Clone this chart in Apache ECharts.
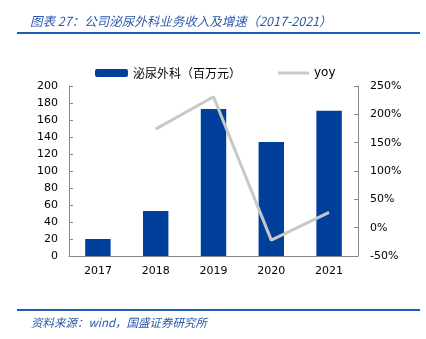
<!DOCTYPE html>
<html><head><meta charset="utf-8">
<script src="https://cdn.jsdelivr.net/npm/echarts@6/dist/echarts.min.js"></script>
<style>html,body{margin:0;padding:0;background:#fff}#c{width:426px;height:339px}</style>
</head><body><div id="c"></div>
<script>
const categories = ['2017','2018','2019','2020','2021'];
const revenue = [20, 53, 173, 134, 171];
const yoy = [null, 174, 231, -22, 27];
const leftTicks = [0, 200, 20];
const rightTicks = [-50, 250, 50];

const chart = echarts.init(document.getElementById('c'), null, {renderer:'canvas'});
const axisFont = {fontFamily:'DejaVu Sans', fontSize:11, color:'#000'};
chart.setOption({
  animation:false,
  title:[{
    text:'图表 27：公司泌尿外科业务收入及增速（2017-2021）',
    left:25, top:10,
    textStyle:{fontFamily:'Noto Sans CJK SC', fontStyle:'italic', fontWeight:'normal', fontSize:12.5, color:'#2a58a8'}
  },{
    text:'资料来源：wind，国盛证券研究所',
    left:26, top:312,
    textStyle:{fontFamily:'Noto Sans CJK SC', fontStyle:'italic', fontWeight:'normal', fontSize:11.5, color:'#2a58a8'}
  }],
  graphic:[
    {type:'rect', shape:{x:17,y:32,width:403,height:2}, style:{fill:'#1f5cb8'}},
    {type:'rect', shape:{x:17,y:309,width:403,height:2}, style:{fill:'#1f5cb8'}}
  ],
  legend:[{
    top:62, left:90,
    textStyle:{fontFamily:'Noto Sans CJK SC', fontSize:12, color:'#000'},
    data:[{name:'泌尿外科（百万元）', icon:'roundRect', itemStyle:{color:'#00409a'}}],
    itemWidth:33, itemHeight:8, itemGap:4
  },{
    top:62, left:273,
    textStyle:{fontFamily:'DejaVu Sans', fontSize:12, color:'#000'},
    data:[{name:'yoy', icon:'rect', itemStyle:{color:'#c8c8c8'}}],
    itemWidth:31, itemHeight:3
  }],
  grid:{left:69, right:68, top:86, bottom:83},
  xAxis:{
    type:'category', data:categories,
    axisLine:{lineStyle:{color:'#888'}},
    axisTick:{inside:true, length:4, lineStyle:{color:'#888'}},
    axisLabel:Object.assign({margin:10}, axisFont)
  },
  yAxis:[{
    type:'value', min:leftTicks[0], max:leftTicks[1], interval:leftTicks[2],
    axisLine:{show:true, lineStyle:{color:'#888'}},
    axisTick:{show:true, inside:true, length:4, lineStyle:{color:'#888'}},
    splitLine:{show:false},
    axisLabel:Object.assign({margin:11}, axisFont)
  },{
    type:'value', min:rightTicks[0], max:rightTicks[1], interval:rightTicks[2],
    axisLine:{show:true, lineStyle:{color:'#888'}},
    axisTick:{show:true, inside:true, length:4, lineStyle:{color:'#888'}},
    splitLine:{show:false},
    axisLabel:Object.assign({margin:12, formatter:'{value}%'}, axisFont)
  }],
  series:[{
    name:'泌尿外科（百万元）', type:'bar', data:revenue, barWidth:'44%',
    itemStyle:{color:'#00409a'}
  },{
    name:'yoy', type:'line', yAxisIndex:1, data:yoy, showSymbol:false, symbol:'none',
    lineStyle:{color:'#c8c8c8', width:3}, itemStyle:{color:'#c8c8c8'}
  }]
});
</script></body></html>
